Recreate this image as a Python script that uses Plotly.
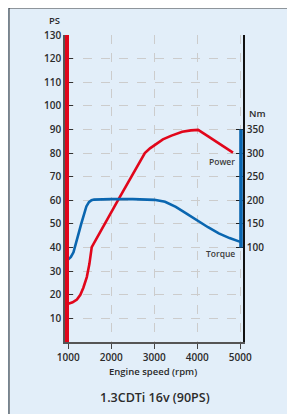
import plotly.graph_objects as go

# ---- data ----
power_rpm = [1000, 1100, 1200, 1280, 1350, 1430, 1490, 1545, 2160, 2780, 2900, 3000, 3200,
             3400, 3650, 3850, 4020, 4200, 4450, 4650, 4830]
power_ps = [16.2, 16.8, 18.0, 20.0, 23.0, 27.5, 33.0, 40.2, 60.2, 80.0, 82.0, 83.4, 85.8,
            87.4, 89.0, 89.6, 89.8, 87.7, 84.8, 82.5, 80.2]

torque_rpm = [1000, 1060, 1120, 1180, 1240, 1300, 1360, 1420, 1480, 1540, 1600, 1700, 2000,
              2500, 3000, 3250, 3500, 3750, 4000, 4250, 4500, 4750, 5000]
torque_nm = [75, 80, 90, 108, 130, 150, 170, 187, 196, 200, 201.5, 202, 202.5,
             202.5, 201, 197, 186, 172, 157, 143, 130, 120, 112]

x_ticks = [1000, 2000, 3000, 4000, 5000]
ps_ticks = [10, 20, 30, 40, 50, 60, 70, 80, 90, 100, 110, 120, 130]
nm_ticks = [100, 150, 200, 250, 300, 350]

# ---- layout geometry (screen pixels; page body adds an 8px offset) ----
OFF = 8
W, H = 295, 414
PLOT_L, PLOT_R, PLOT_T, PLOT_B = 65, 243, 35, 341.6  # screen coords of plot area
L = PLOT_L - OFF
T = PLOT_T - OFF
PW = PLOT_R - PLOT_L
PH = PLOT_B - PLOT_T
R = W - L - PW
B = H - T - PH


def px(xs):
    return (xs - PLOT_L) / PW


def py(ys):
    return (PLOT_B - ys) / PH


RED = "#e1061b"
BLUE = "#0a66b0"
TXT = "#2b2b2b"
FONT = "Open Sans"
TICKFONT = dict(family=FONT, size=10, color=TXT, weight=600)

fig = go.Figure()
fig.add_trace(go.Scatter(x=power_rpm, y=power_ps, mode="lines",
                         line=dict(color=RED, width=2.6), yaxis="y", hoverinfo="skip"))
fig.add_trace(go.Scatter(x=torque_rpm, y=torque_nm, mode="lines",
                         line=dict(color=BLUE, width=2.6), yaxis="y2", hoverinfo="skip"))

shapes = [
    # panel
    dict(type="rect", xref="paper", yref="paper", x0=px(9), x1=px(320), y0=py(8), y1=py(440),
         fillcolor="#e2eef9", line=dict(color="#2a2a2a", width=1), layer="below"),
    # red bar on PS axis
    dict(type="line", xref="paper", yref="y", x0=px(67), x1=px(67), y0=0, y1=130,
         line=dict(color=RED, width=4), layer="above"),
    # blue bar on Nm axis
    dict(type="line", xref="paper", yref="y2", x0=px(241), x1=px(241), y0=100, y1=350,
         line=dict(color=BLUE, width=3.6), layer="above"),
]

annotations = [
    dict(text="PS", x=px(54.5), y=py(21), xref="paper", yref="paper", showarrow=False,
         font=dict(family=FONT, size=9.5, color=TXT, weight=600), xanchor="center", yanchor="middle"),
    dict(text="Nm", x=px(246.5), y=py(113), xref="paper", yref="paper", showarrow=False,
         font=dict(family=FONT, size=9.5, color=TXT, weight=600), xanchor="left", yanchor="middle"),
    dict(text="Power", x=px(236.5), y=py(161), xref="paper", yref="paper", showarrow=False,
         font=dict(family=FONT, size=8.5, color="#3c3c3c", weight=600), xanchor="right", yanchor="middle"),
    dict(text="Torque", x=px(236.5), y=py(253.5), xref="paper", yref="paper", showarrow=False,
         font=dict(family=FONT, size=8.5, color="#3c3c3c", weight=600), xanchor="right", yanchor="middle"),
    dict(text="Engine speed (rpm)", x=px(153), y=py(371), xref="paper", yref="paper", showarrow=False,
         font=dict(family=FONT, size=9.5, color=TXT, weight=600), xanchor="center", yanchor="middle"),
    dict(text="1.3CDTi 16v (90PS)", x=px(155), y=py(397), xref="paper", yref="paper", showarrow=False,
         font=dict(family=FONT, size=12.5, color=TXT, weight=600), xanchor="center", yanchor="middle"),
]

fig.update_layout(
    width=W, height=H,
    margin=dict(l=L, r=R, t=T, b=B, pad=0, autoexpand=False),
    paper_bgcolor="#c2def5",
    plot_bgcolor="#e2eef9",
    showlegend=False,
    shapes=shapes,
    annotations=annotations,
    xaxis=dict(range=[923, 5063], tickvals=x_ticks, ticks="outside", ticklen=5, tickwidth=1.3,
               tickcolor="#444", showline=True, linecolor="#555", linewidth=1.5,
               showgrid=True, gridcolor="#cccccc", griddash="dash", gridwidth=1, zeroline=False,
               tickfont=TICKFONT),
    yaxis=dict(range=[0, 130], tickvals=ps_ticks, ticks="inside", ticklen=8, tickwidth=1.3,
               tickcolor="#333", showline=True, linecolor="#555", linewidth=1.5,
               showgrid=True, gridcolor="#cccccc", griddash="dash", gridwidth=1, zeroline=False,
               tickfont=TICKFONT),
    yaxis2=dict(range=[-100, 550], tickvals=nm_ticks, overlaying="y", side="right",
                ticks="inside", ticklen=7, tickwidth=1.3, tickcolor="#222",
                showline=True, linecolor="#111", linewidth=1.5, showgrid=False, zeroline=False,
                tickfont=TICKFONT),
)

fig.write_html("out.html")
